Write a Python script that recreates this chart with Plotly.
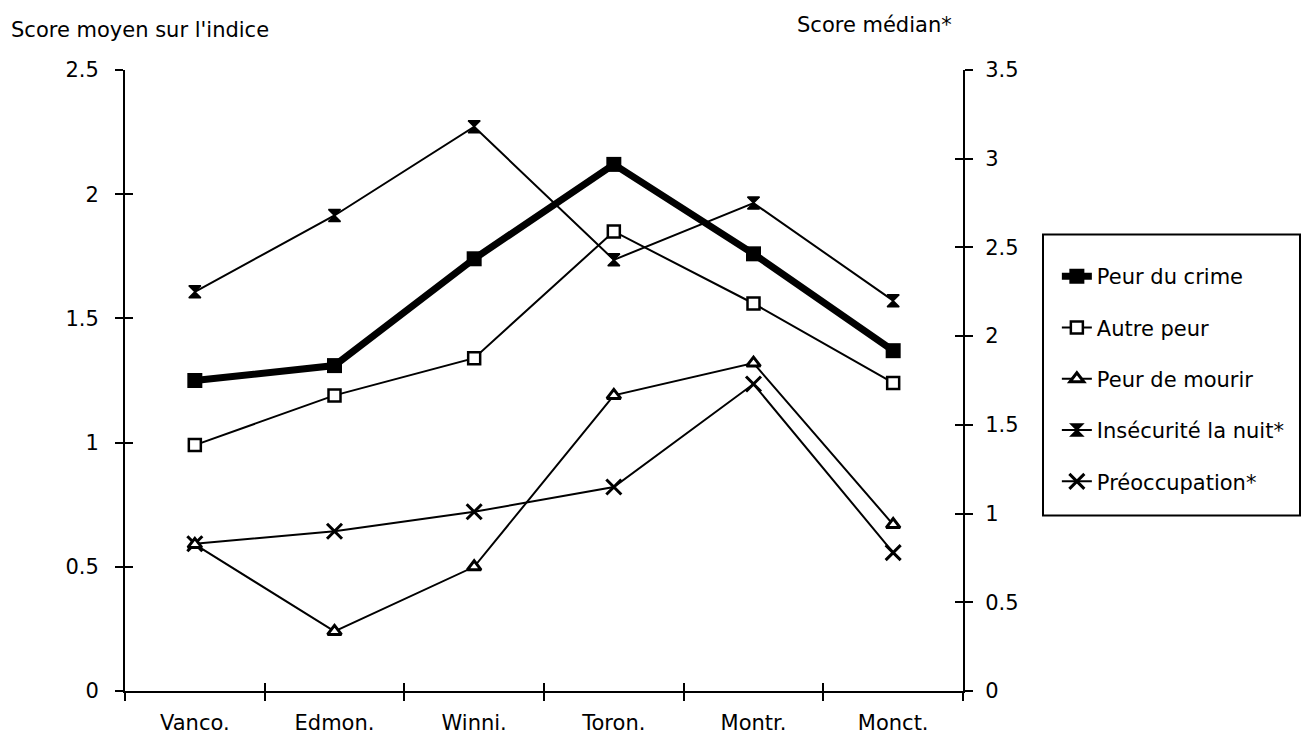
import plotly.graph_objects as go

categories = ["Vanco.", "Edmon.", "Winni.", "Toron.", "Montr.", "Monct."]
# left axis (score moyen sur l'indice)
peur_crime = [1.25, 1.31, 1.74, 2.12, 1.76, 1.37]
autre_peur = [0.99, 1.19, 1.34, 1.85, 1.56, 1.24]
peur_mourir = [0.59, 0.24, 0.50, 1.19, 1.32, 0.67]
# right axis (score médian*)
insecurite_nuit = [2.25, 2.68, 3.18, 2.43, 2.75, 2.20]
preoccupation = [0.83, 0.90, 1.01, 1.15, 1.73, 0.78]

left_ticks = [0, 0.5, 1, 1.5, 2, 2.5]
right_ticks = [0, 0.5, 1, 1.5, 2, 2.5, 3, 3.5]

FONT = "DejaVu Sans"
FS = 21
W_THIN = 2

XR = [-0.5, len(categories) - 0.5]

fig = go.Figure()

fig.add_trace(go.Scatter(
    x=categories, y=peur_crime, name="Peur du crime", legendgroup="a",
    mode="lines+markers", line=dict(color="black", width=7),
    marker=dict(symbol="square", size=15, color="black"),
    xaxis="x", yaxis="y"))
fig.add_trace(go.Scatter(
    x=categories, y=autre_peur, name="Autre peur", legendgroup="b",
    mode="lines+markers", line=dict(color="black", width=W_THIN),
    marker=dict(symbol="square", size=12, color="white",
                line=dict(color="black", width=2.5)),
    xaxis="x", yaxis="y"))
fig.add_trace(go.Scatter(
    x=categories, y=peur_mourir, name="Peur de mourir", legendgroup="c",
    mode="lines+markers", line=dict(color="black", width=W_THIN),
    marker=dict(symbol="triangle-up", size=12, color="white",
                line=dict(color="black", width=3)),
    xaxis="x3", yaxis="y3"))
fig.add_trace(go.Scatter(
    x=categories, y=insecurite_nuit, name="Insécurité la nuit*", legendgroup="d",
    mode="lines+markers", line=dict(color="black", width=W_THIN),
    marker=dict(symbol="hourglass", size=12, color="black",
                line=dict(color="black", width=1.5)),
    xaxis="x", yaxis="y2"))
fig.add_trace(go.Scatter(
    x=categories, y=preoccupation, name="Préoccupation*", legendgroup="e",
    mode="lines+markers", line=dict(color="black", width=W_THIN),
    marker=dict(symbol="x-thin-open", size=15,
                line=dict(color="black", width=3)),
    xaxis="x", yaxis="y4"))

axis_common = dict(showgrid=False, zeroline=False, linecolor="black",
                   tickcolor="black", tickwidth=2, linewidth=2,
                   tickfont=dict(family=FONT, size=FS, color="black"))
inner = dict(ticks="inside", ticklen=8, showticklabels=False,
             showline=False, showgrid=False, zeroline=False,
             tickcolor="black", tickwidth=2)

fig.update_layout(
    width=1302, height=747,
    margin=dict(l=125, r=339, t=70, b=54),
    paper_bgcolor="white", plot_bgcolor="white",
    font=dict(family=FONT, size=FS, color="black"),
    xaxis=dict(type="category", categoryarray=categories, range=XR,
               tickson="boundaries", ticks="outside", ticklen=8,
               showline=True, ticklabelstandoff=12, **axis_common),
    xaxis3=dict(type="category", categoryarray=categories, range=XR,
                tickson="boundaries", overlaying="x", anchor="y3",
                side="bottom", **inner),
    yaxis=dict(range=[0, 2.5], tickvals=left_ticks, ticks="outside",
               ticklen=8, showline=True, ticklabelstandoff=12,
               **axis_common),
    yaxis3=dict(range=[0, 2.5], tickvals=left_ticks, overlaying="y",
                anchor="x3", side="left", **inner),
    yaxis2=dict(range=[0, 3.5], tickvals=right_ticks, ticks="outside",
                ticklen=8, showline=True, overlaying="y", side="right",
                anchor="x", ticklabelstandoff=8, **axis_common),
    yaxis4=dict(range=[0, 3.5], tickvals=right_ticks, overlaying="y",
                anchor="x", side="right", **inner),
    showlegend=True,
    legend=dict(x=1.112, y=0.7005, xanchor="left", yanchor="top",
                borderwidth=0, bgcolor="rgba(0,0,0,0)",
                traceorder="grouped", tracegroupgap=21,
                font=dict(family=FONT, size=FS, color="black"),
                itemwidth=30),
    shapes=[dict(type="rect", xref="paper", yref="paper",
                 x0=(1043 - 125) / 838, x1=(1300 - 125) / 838,
                 y0=(693 - 517) / 623, y1=(693 - 235) / 623,
                 line=dict(color="black", width=2), fillcolor="rgba(0,0,0,0)",
                 layer="below")],
    annotations=[
        dict(text="Score moyen sur l'indice", xref="paper", yref="paper",
             x=-0.138, y=1.064, xanchor="left", yanchor="middle",
             showarrow=False, font=dict(family=FONT, size=FS, color="black")),
        dict(text="Score médian*", xref="paper", yref="paper",
             x=0.80, y=1.072, xanchor="left", yanchor="middle",
             showarrow=False, font=dict(family=FONT, size=FS, color="black")),
    ],
)

fig.write_html("out.html")
